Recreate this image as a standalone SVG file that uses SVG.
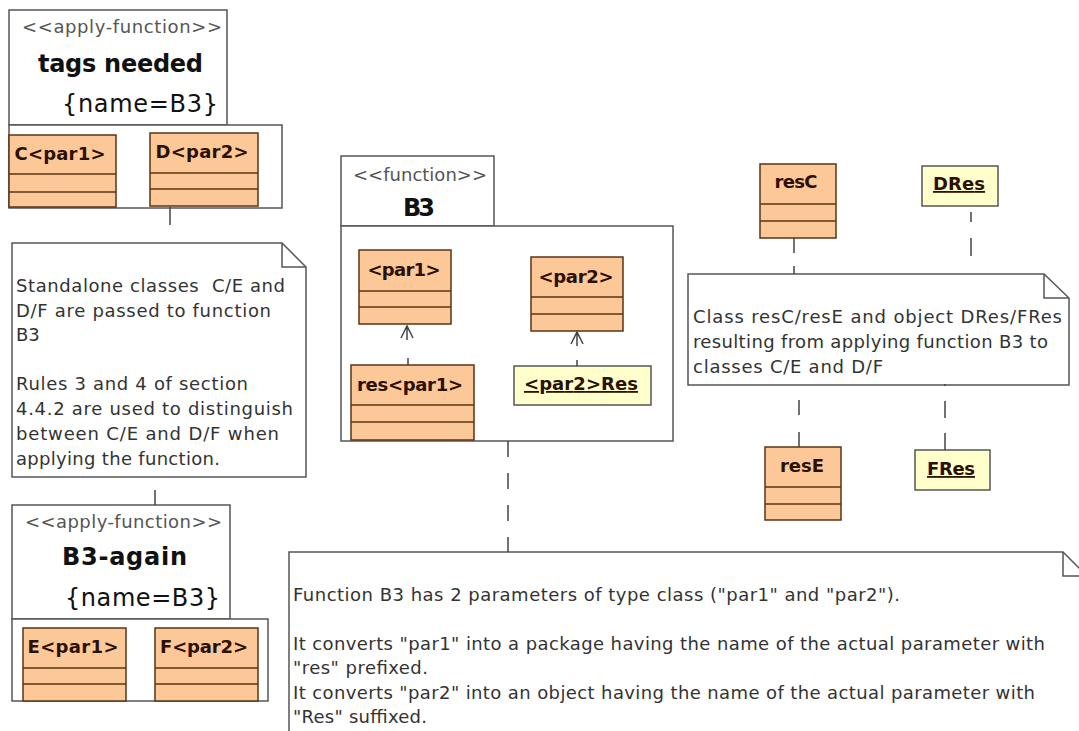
<svg xmlns="http://www.w3.org/2000/svg" width="1079" height="731" viewBox="0 0 1079 731">
<style>
.pkg{fill:#fff;stroke:#555;stroke-width:1.5}
.cls{fill:#fcc897;stroke:#5a3416;stroke-width:1.5}
.row{stroke:#5a3416;stroke-width:1.5;fill:none}
.obj{fill:#ffffcc;stroke:#555;stroke-width:1.5}
.note{fill:#fff;stroke:#555;stroke-width:1.5}
.fold{fill:none;stroke:#555;stroke-width:1.5}
.con{fill:none;stroke:#444;stroke-width:1.5}
.ster{font-family:"DejaVu Sans",sans-serif;font-size:18px;fill:#555}
.ttl{font-family:"DejaVu Sans",sans-serif;font-size:24px;font-weight:bold;fill:#111}
.tag{font-family:"DejaVu Sans",sans-serif;font-size:24px;fill:#111}
.cn{font-family:"DejaVu Sans",sans-serif;font-size:18px;font-weight:bold;fill:#2b1000;text-anchor:middle}
.on{font-family:"DejaVu Sans",sans-serif;font-size:18px;font-weight:bold;fill:#2b1000;text-anchor:middle;text-decoration:underline}
.nt{font-family:"DejaVu Sans",sans-serif;font-size:18px;fill:#333;white-space:pre}
</style>
<rect width="1079" height="731" fill="#fff"/>

<g id="pkg-tags-needed">
<rect class="pkg" x="9" y="10" width="218" height="115"/>
<rect class="pkg" x="9" y="125" width="273" height="83"/>
<text class="ster" x="22" y="33" textLength="200" lengthAdjust="spacing">&lt;&lt;apply-function&gt;&gt;</text>
<text class="ttl" x="38" y="72" textLength="165" lengthAdjust="spacing">tags needed</text>
<text class="tag" x="62" y="112" textLength="156" lengthAdjust="spacing">{name=B3}</text>
</g>
<g id="class-C">
<rect class="cls" x="9" y="135" width="107" height="72"/>
<path class="row" d="M9 174H116M9 192H116"/>
<text class="cn" x="60" y="160" textLength="91" lengthAdjust="spacing">C&lt;par1&gt;</text>
</g>
<g id="class-D">
<rect class="cls" x="150" y="133" width="108" height="73"/>
<path class="row" d="M150 173H258M150 189H258"/>
<text class="cn" x="202" y="158" textLength="93" lengthAdjust="spacing">D&lt;par2&gt;</text>
</g>

<g id="note-standalone">
<path class="note" d="M12 243H282L306 267V477H12Z"/>
<path class="fold" d="M282 243V267H306"/>
<text class="nt" x="16" y="292" textLength="269" lengthAdjust="spacing" xml:space="preserve">Standalone classes  C/E and</text>
<text class="nt" x="16" y="317" textLength="255" lengthAdjust="spacing">D/F are passed to function</text>
<text class="nt" x="16" y="341">B3</text>
<text class="nt" x="16" y="390" textLength="232" lengthAdjust="spacing">Rules 3 and 4 of section</text>
<text class="nt" x="16" y="415" textLength="277" lengthAdjust="spacing">4.4.2 are used to distinguish</text>
<text class="nt" x="16" y="440" textLength="263" lengthAdjust="spacing">between C/E and D/F when</text>
<text class="nt" x="16" y="465" textLength="204" lengthAdjust="spacing">applying the function.</text>
</g>

<g id="pkg-B3-again">
<rect class="pkg" x="12" y="505" width="218" height="114"/>
<rect class="pkg" x="12" y="619" width="256" height="82"/>
<text class="ster" x="25" y="528" textLength="197" lengthAdjust="spacing">&lt;&lt;apply-function&gt;&gt;</text>
<text class="ttl" x="62" y="565" textLength="125" lengthAdjust="spacing">B3-again</text>
<text class="tag" x="65" y="606" textLength="155" lengthAdjust="spacing">{name=B3}</text>
</g>
<g id="class-E">
<rect class="cls" x="23" y="628" width="103" height="73"/>
<path class="row" d="M23 668H126M23 684H126"/>
<text class="cn" x="73" y="653" textLength="91" lengthAdjust="spacing">E&lt;par1&gt;</text>
</g>
<g id="class-F">
<rect class="cls" x="155" y="628" width="103" height="73"/>
<path class="row" d="M155 668H258M155 684H258"/>
<text class="cn" x="204" y="653" textLength="88" lengthAdjust="spacing">F&lt;par2&gt;</text>
</g>

<g id="pkg-B3">
<rect class="pkg" x="341" y="156" width="153" height="70"/>
<rect class="pkg" x="341" y="226" width="332" height="215"/>
<text class="ster" x="353" y="181" textLength="134" lengthAdjust="spacing">&lt;&lt;function&gt;&gt;</text>
<text class="ttl" x="403" y="216" textLength="32" lengthAdjust="spacing">B3</text>
</g>
<g id="class-par1">
<rect class="cls" x="359" y="250" width="92" height="74"/>
<path class="row" d="M359 291H451M359 307H451"/>
<text class="cn" x="404" y="276" textLength="73" lengthAdjust="spacing">&lt;par1&gt;</text>
</g>
<g id="class-par2">
<rect class="cls" x="531" y="257" width="92" height="74"/>
<path class="row" d="M531 297H623M531 314H623"/>
<text class="cn" x="576" y="283" textLength="75" lengthAdjust="spacing">&lt;par2&gt;</text>
</g>
<g id="class-res-par1">
<rect class="cls" x="351" y="365" width="123" height="75"/>
<path class="row" d="M351 405H474M351 422H474"/>
<text class="cn" x="410" y="391" textLength="106" lengthAdjust="spacing">res&lt;par1&gt;</text>
</g>
<g id="obj-par2-Res">
<rect class="obj" x="514" y="366" width="137" height="39"/>
<text class="on" x="581" y="390" textLength="114" lengthAdjust="spacing">&lt;par2&gt;Res</text>
</g>

<g id="class-resC">
<rect class="cls" x="760" y="164" width="76" height="74"/>
<path class="row" d="M760 204H836M760 221H836"/>
<text class="cn" x="796" y="188" textLength="43" lengthAdjust="spacing">resC</text>
</g>
<g id="obj-DRes">
<rect class="obj" x="922" y="166" width="76" height="40"/>
<text class="on" x="959" y="190" textLength="52" lengthAdjust="spacing">DRes</text>
</g>

<g id="note-result">
<path class="note" d="M688 274H1044L1069 298V385H688Z"/>
<path class="fold" d="M1044 274V298H1069"/>
<text class="nt" x="693" y="323" textLength="369" lengthAdjust="spacing">Class resC/resE and object DRes/FRes</text>
<text class="nt" x="693" y="348" textLength="355" lengthAdjust="spacing">resulting from applying function B3 to</text>
<text class="nt" x="693" y="373" textLength="190" lengthAdjust="spacing">classes C/E and D/F</text>
</g>

<g id="class-resE">
<rect class="cls" x="765" y="447" width="76" height="73"/>
<path class="row" d="M765 487H841M765 504H841"/>
<text class="cn" x="802" y="472" textLength="44" lengthAdjust="spacing">resE</text>
</g>
<g id="obj-FRes">
<rect class="obj" x="915" y="450" width="75" height="40"/>
<text class="on" x="951" y="475" textLength="48" lengthAdjust="spacing">FRes</text>
</g>

<g id="note-function">
<path class="note" d="M289 552H1063L1087 576V745H289Z"/>
<path class="fold" d="M1063 552V576H1087"/>
<text class="nt" x="293" y="601" textLength="607" lengthAdjust="spacing">Function B3 has 2 parameters of type class ("par1" and "par2").</text>
<text class="nt" x="293" y="650" textLength="752" lengthAdjust="spacing">It converts "par1" into a package having the name of the actual parameter with</text>
<text class="nt" x="293" y="674" textLength="135" lengthAdjust="spacing">"res" prefixed.</text>
<text class="nt" x="293" y="699" textLength="742" lengthAdjust="spacing">It converts "par2" into an object having the name of the actual parameter with</text>
<text class="nt" x="293" y="723" textLength="134" lengthAdjust="spacing">"Res" suffixed.</text>
</g>

<g id="connectors">
<path class="con" d="M170 207V225"/>
<path class="con" d="M155 490V505"/>
<path class="con" d="M508 441V552" stroke-dasharray="16 16"/>
<path class="con" d="M794 238V274" stroke-dasharray="15 13"/>
<path class="con" d="M971 212V222M971 238V256"/>
<path class="con" d="M799 447V384" stroke-dasharray="15 17"/>
<path class="con" d="M945 450V384" stroke-dasharray="17 15"/>
<path class="con" d="M408 358V365M407 326V340M401 338L407 326L413 338"/>
<path class="con" d="M577 360V366M577 332V346M571 344L577 332L583 344"/>
</g>
</svg>
